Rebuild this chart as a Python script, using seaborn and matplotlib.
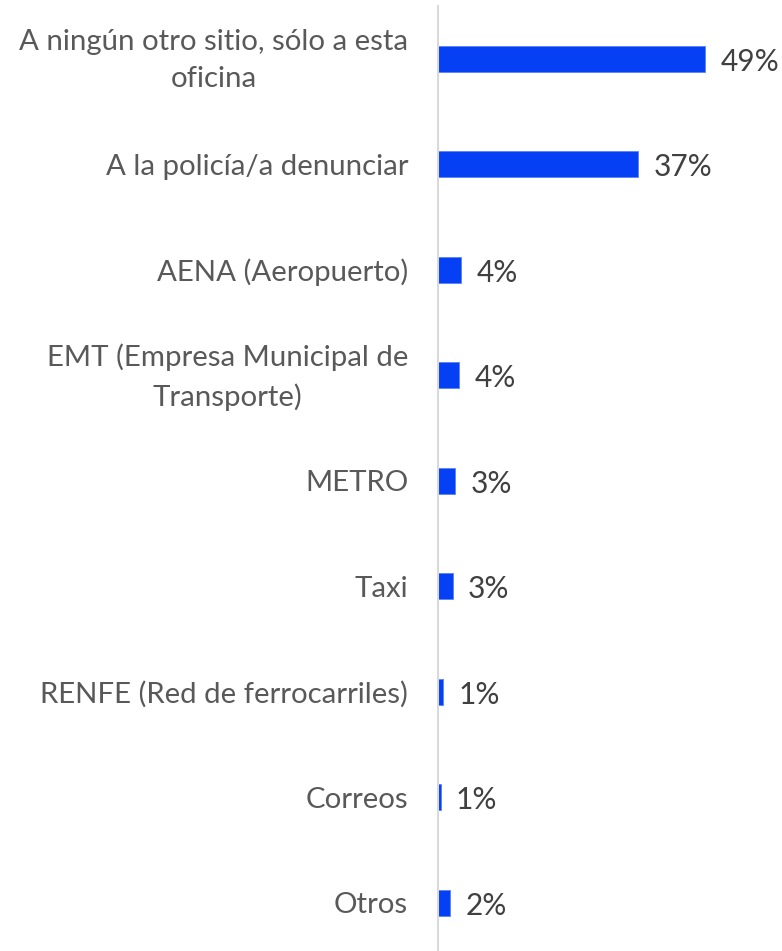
import matplotlib
matplotlib.use("Agg")
import matplotlib.pyplot as plt
import matplotlib.transforms as mtransforms
import seaborn as sns
import pandas as pd

categories = [
    "A ningún otro sitio, sólo a esta\noficina",
    "A la policía/a denunciar",
    "AENA (Aeropuerto)",
    "EMT (Empresa Municipal de\nTransporte)",
    "METRO",
    "Taxi",
    "RENFE (Red de ferrocarriles)",
    "Correos",
    "Otros",
]
values = [49.0, 36.7, 4.3, 3.9, 3.2, 2.7, 0.9, 0.5, 2.2]
value_labels = ["49%", "37%", "4%", "4%", "3%", "3%", "1%", "1%", "2%"]

df = pd.DataFrame({"cat": categories, "val": values})

sns.set_theme(style="white")
plt.rcParams["font.family"] = ["Lato", "DejaVu Sans"]

W, H = 782, 951
fig = plt.figure(figsize=(W / 100, H / 100), dpi=100)
left = 438 / W
top_px, bot_px = 6.0, 955.5
ax = fig.add_axes([left, 1 - bot_px / H, 1 - left, (bot_px - top_px) / H])

sns.barplot(data=df, x="val", y="cat", ax=ax, color="#0540F5",
            width=0.25, saturation=1, edgecolor="#5A82F7", linewidth=0.6)

ax.set_xlim(0, 344 / 5.45)
ax.set_xlabel("")
ax.set_ylabel("")
ax.set_xticks([])
for s in ["top", "right", "bottom"]:
    ax.spines[s].set_visible(False)
ax.spines["left"].set_color("#D9D9D9")
ax.spines["left"].set_linewidth(1.5)

ax.tick_params(axis="y", length=0, pad=21.5, labelsize=21.2, labelcolor="#595959")
shift = mtransforms.ScaledTranslation(0, 6.5 / 100, fig.dpi_scale_trans)
for t in ax.get_yticklabels():
    t.set_multialignment("center")
    t.set_linespacing(1.55)
    if "\n" in t.get_text():
        t.set_transform(t.get_transform() + shift)

for i, (v, lab) in enumerate(zip(values, value_labels)):
    ax.annotate(lab, xy=(v, i), xytext=(11, -2), textcoords="offset points",
                va="center", ha="left", fontsize=21.5, color="#404040")

fig.savefig("out.png", dpi=100)
